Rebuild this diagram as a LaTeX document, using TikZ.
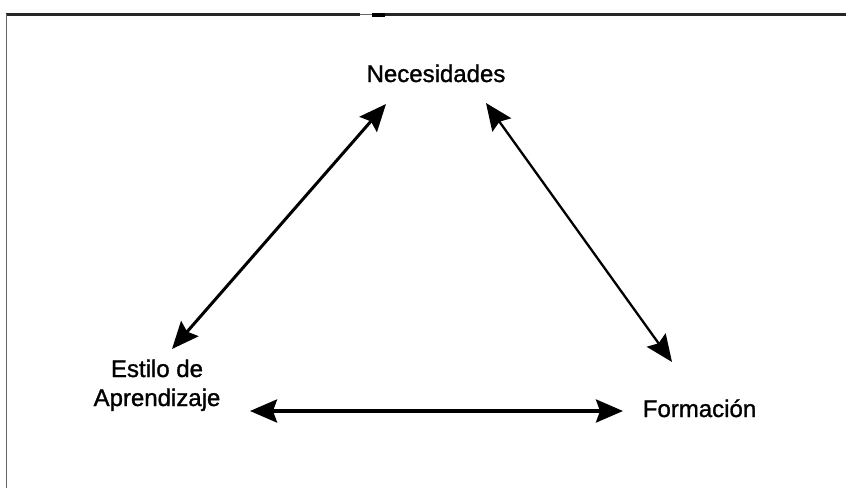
\documentclass[tikz,border=0pt]{standalone}
\usepackage{fontspec}
\setmainfont{Liberation Sans}
\newfontfamily\lblfont{Liberation Sans}[AutoFakeBold=1.2]
\usetikzlibrary{arrows.meta}
\tikzset{
  lbl/.style={inner sep=0pt, font=\lblfont\bfseries\fontsize{24}{29}\selectfont, align=center},
  dbl/.style={{Stealth[length=27pt,width=23pt,inset=4pt]}-{Stealth[length=27pt,width=23pt,inset=4pt]}, line width=3pt, black},
  frame/.style={line width=3pt, black!85}
}
\begin{document}
\begin{tikzpicture}[x=1pt,y=-1pt]
\useasboundingbox (0,0) rectangle (846,488);
% frame
\draw[frame] (6,14.8) -- (360,14.8);
\draw[line width=1.2pt, black!60] (360,14.8) -- (372,14.8);
\draw[line width=4pt, black] (372,14.5) -- (385,14.5);
\draw[frame] (385,14.8) -- (846,14.8);
\draw[line width=1.4pt, black!60] (6.7,14) -- (6.7,488);
% labels
\node[lbl, anchor=base] (nec) at (436,82) {Necesidades};
\node[lbl, anchor=base] (est) at (157,406) {Estilo de\\Aprendizaje};
\node[lbl, anchor=base] (for) at (699.5,417) {Formación};
% arrow ends
\coordinate (a1) at (172,349);
\coordinate (a2) at (386,104);
\coordinate (b1) at (486,103);
\coordinate (b2) at (672,362);
\coordinate (c1) at (250,411);
\coordinate (c2) at (623,411);
\draw[dbl] (a1) -- (a2);
\draw[dbl, line width=2.3pt] (b1) -- (b2);
\draw[dbl, line width=3.4pt] (c1) -- (c2);
\end{tikzpicture}
\end{document}
